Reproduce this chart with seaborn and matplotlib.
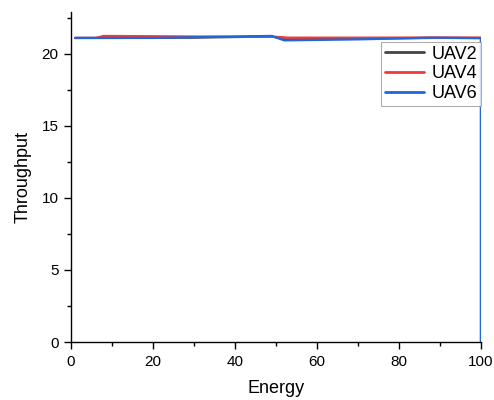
import matplotlib
matplotlib.use('Agg')
import matplotlib.pyplot as plt
import seaborn as sns
import pandas as pd
from matplotlib.ticker import MultipleLocator

# series
uav2_x = [1, 10, 30, 49, 52, 70, 88, 100, 100]
uav2_y = [21.1, 21.1, 21.12, 21.2, 21.0, 21.05, 21.1, 21.1, 0]
uav4_x = [1, 6, 8, 30, 50, 53, 70, 90, 100, 100]
uav4_y = [21.1, 21.1, 21.24, 21.2, 21.18, 21.12, 21.12, 21.13, 21.12, 0]
uav6_x = [1, 20, 49, 52, 70, 88, 100, 100]
uav6_y = [21.1, 21.1, 21.24, 20.93, 21.0, 21.12, 21.08, 0]
names = ['UAV2', 'UAV4', 'UAV6']
colors = ['#444444', '#ef3b3b', '#2266dd']

sns.set_style('ticks', {'axes.edgecolor': 'black', 'text.color': 'black',
                        'xtick.color': 'black', 'ytick.color': 'black',
                        'axes.labelcolor': 'black'})
plt.rcParams['font.family'] = ['Liberation Sans', 'DejaVu Sans']

fig = plt.figure(figsize=(4.94, 4), dpi=100)
ax = fig.add_axes([0.1437, 0.145, 0.83, 0.825])

for name, xs, ys, c in zip(names, [uav2_x, uav4_x, uav6_x], [uav2_y, uav4_y, uav6_y], colors):
    df = pd.DataFrame({'Energy': xs, 'Throughput': ys})
    sns.lineplot(data=df, x='Energy', y='Throughput', ax=ax, color=c, lw=1.6,
                 sort=False, estimator=None, label=name)

ax.set_xlim(0, 100)
ax.set_ylim(0, 22.9)
ax.xaxis.set_major_locator(MultipleLocator(20))
ax.xaxis.set_minor_locator(MultipleLocator(10))
ax.yaxis.set_major_locator(MultipleLocator(5))
ax.yaxis.set_minor_locator(MultipleLocator(2.5))
ax.tick_params(which='major', length=5, width=1, labelsize=11, direction='out', pad=4)
ax.tick_params(which='minor', length=3, width=1, direction='out')
for s in ['top', 'right']:
    ax.spines[s].set_visible(False)
for s in ['left', 'bottom']:
    ax.spines[s].set_linewidth(1)
ax.set_xlabel('Energy', fontsize=13, labelpad=8)
ax.set_ylabel('Throughput', fontsize=13, labelpad=7)

leg = ax.legend(loc='upper right', bbox_to_anchor=(1.0, 0.909), fontsize=13,
                frameon=True, fancybox=False, handlelength=2.2,
                borderpad=0.2, labelspacing=0.15, handletextpad=0.4, borderaxespad=0)
leg.get_frame().set_edgecolor('#999999')
leg.get_frame().set_linewidth(0.8)
for line in leg.get_lines():
    line.set_linewidth(2)

fig.savefig('out.png', dpi=100)
